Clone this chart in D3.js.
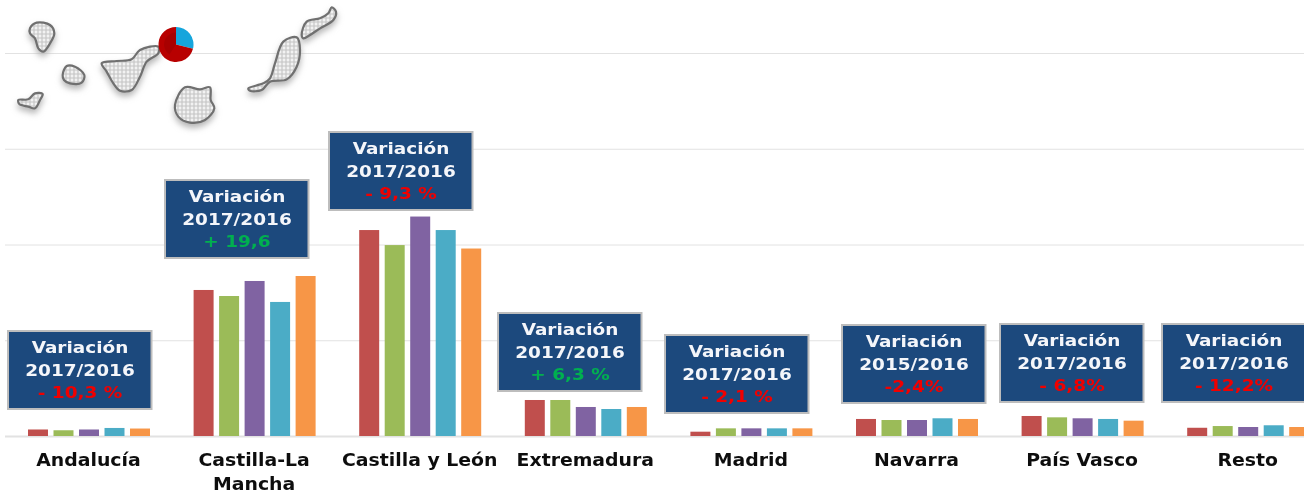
<!DOCTYPE html>
<html><head><meta charset="utf-8">
<script src="https://cdn.jsdelivr.net/npm/d3@7"></script>
<style>html,body{margin:0;padding:0;background:#fff;overflow:hidden}svg{display:block}</style>
</head><body><svg id="c" width="1304" height="493"></svg>
<script>
const categories=["Andalucía","Castilla-La Mancha","Castilla y León","Extremadura","Madrid","Navarra","País Vasco","Resto"];
const seriesNames=["2013","2014","2015","2016","2017"];
const s2013=[6.8,152.5,215.1,37.6,4.5,17.8,20.9,8.6];
const s2014=[6.0,146.2,199.4,37.6,8.0,16.7,19.5,10.4];
const s2015=[6.8,161.9,229.2,30.3,8.0,16.7,18.5,9.4];
const s2016=[8.4,140.0,215.1,28.2,8.0,18.5,17.8,11.2];
const s2017=[7.8,167.1,195.8,30.3,8.0,17.8,16.0,9.4];
const seriesValues=[s2013,s2014,s2015,s2016,s2017];
const colors=["#c0504d","#9bbb59","#8064a2","#4bacc6","#f79646"];
const yTicks=[0,100,200,300,400];
const noteTitle="Variación";
const notePeriods=["2017/2016","2017/2016","2017/2016","2017/2016","2017/2016","2015/2016","2017/2016","2017/2016"];
const noteChanges=["- 10,3 %","+ 19,6","- 9,3 %","+ 6,3 %","- 2,1 %","-2,4%","- 6,8%","- 12,2%"];
const noteColors=["#f00000","#00b050","#f00000","#00b050","#f00000","#f00000","#f00000","#f00000"];
const noteLeft=[8,165,329,498,665,842,1000,1162];
const noteTop=[331,180,132,313,335,325,324,324];
const pieShares=[29,71];

const W=1304,H=493;
const svg=d3.select("#c");
const defs=svg.append("defs");
const soft=defs.append("filter").attr("id","soft");
soft.append("feGaussianBlur").attr("stdDeviation",0.4);
const shade=defs.append("filter").attr("id","shade").attr("x","-40%").attr("y","-40%").attr("width","180%").attr("height","190%");
shade.append("feGaussianBlur").attr("stdDeviation",3);
const pat=defs.append("pattern").attr("id","hatch").attr("width",4).attr("height",4).attr("patternUnits","userSpaceOnUse");
pat.append("rect").attr("width",4).attr("height",4).attr("fill","#f2f2f2");
pat.append("path").attr("d","M0 2H4M2 0V4").attr("stroke","#c4c4c4").attr("stroke-width",1.1);

const x=d3.scaleBand().domain(categories).range([5.7,1330.5]);
const inner=d3.scaleBand().domain(seriesNames).range([22.3,22.3+122]).paddingInner(0.216);
const y=d3.scaleLinear().domain([0,400]).range([436,53]);

const grid=svg.append("g").attr("transform","translate(5,0)")
  .call(d3.axisLeft(y).tickValues(yTicks).tickSize(-W).tickFormat(""));
grid.select(".domain").remove();
grid.selectAll("line").attr("stroke","#e2e2e2").attr("stroke-width",d=>d===0?2:1);

const root=svg.append("g").attr("filter","url(#soft)");
root.selectAll("g.s").data(seriesValues).join("g").attr("class","s")
  .attr("fill",(d,i)=>colors[i])
  .each(function(vals,si){
    d3.select(this).selectAll("rect").data(vals).join("rect")
      .attr("x",(d,i)=>x(categories[i])+inner(seriesNames[si]))
      .attr("y",d=>y(d)).attr("width",inner.bandwidth()).attr("height",d=>y(0)-y(d));
  });

const xAxis=svg.append("g").attr("transform","translate(0,436)").attr("filter","url(#soft)")
  .call(d3.axisBottom(x).tickSize(0).tickFormat(""));
xAxis.select(".domain").remove();
const wrapped={"Castilla-La Mancha":["Castilla-La","Mancha"]};
xAxis.selectAll(".tick").each(function(d){
  const t=d3.select(this).append("text").attr("text-anchor","middle").attr("fill","#111")
    .attr("font-family","'DejaVu Sans'").attr("font-weight","bold").attr("font-size",17)
    .attr("transform","scale(1.11,1)");
  (wrapped[d]||[d]).forEach((line,i)=>t.append("tspan").attr("x",0).attr("y",30+i*24.5).text(line));
});

const notes=root.append("g").selectAll("g").data(categories).join("g")
  .attr("transform",(d,i)=>`translate(${noteLeft[i]},${noteTop[i]})`);
notes.append("rect").attr("width",143.5).attr("height",78).attr("fill","#1f497d").attr("stroke","#bdbdbd").attr("stroke-width",2);
const nt=notes.append("g").attr("text-anchor","middle").attr("font-family","'DejaVu Sans'").attr("font-weight","bold").attr("font-size",16.5)
  .attr("transform","translate(72,0) scale(1.12,1)");
nt.append("text").attr("y",22).attr("fill","#f4f6fa").text(noteTitle);
nt.append("text").attr("y",45).attr("fill","#f4f6fa").text((d,i)=>notePeriods[i]);
nt.append("text").attr("y",67).attr("fill",(d,i)=>noteColors[i]).text((d,i)=>noteChanges[i]);

// islands (map decoration), traced at 3x
const islands=[
 [[90,85],[110,68],[150,75],[163,100],[150,130],[130,155],[115,145],[105,115],[90,100]],
 [[188,225],[200,198],[225,200],[253,225],[245,248],[210,250],[192,240]],
 [[55,300],[85,298],[105,280],[128,282],[120,300],[105,325],[85,320],[58,312]],
 [[305,190],[350,183],[395,178],[420,150],[475,140],[475,160],[440,185],[420,230],[395,270],[360,272],[340,250],[320,215]],
 [[525,315],[555,262],[600,268],[630,262],[632,300],[643,325],[615,360],[570,368],[535,350]],
 [[745,265],[790,250],[810,235],[825,190],[850,125],[890,112],[900,150],[890,200],[860,238],[810,245],[785,270],[750,272]],
 [[905,105],[920,65],[960,55],[985,40],[995,22],[1008,35],[1000,60],[960,85],[930,105],[910,115]]
].map(p=>p.map(([a,b])=>[a/3,b/3]));
const line=d3.line().curve(d3.curveCatmullRomClosed.alpha(0.5));
const map=svg.append("g");
map.selectAll("path.sh").data(islands).join("path").attr("class","sh").attr("d",line)
  .attr("transform","translate(0,4)").attr("fill","#b5b5b5").attr("stroke","#b5b5b5").attr("stroke-width",2).attr("filter","url(#shade)");
map.selectAll("path.is").data(islands).join("path").attr("class","is").attr("d",line)
  .attr("fill","url(#hatch)").attr("stroke","#707070").attr("stroke-width",2.2).attr("filter","url(#soft)");

const pie=d3.pie().sort(null)(pieShares);
const arc=d3.arc().innerRadius(0).outerRadius(17.5);
const pg=svg.append("g").attr("transform","translate(176,44.5)").attr("filter","url(#soft)");
const pieFill=["#12a5dc","#b80000"];
pg.selectAll("path").data(pie).join("path").attr("d",arc).attr("fill",(d,i)=>pieFill[i]);
pg.append("path").attr("d",d3.arc().innerRadius(0).outerRadius(12)({startAngle:pie[1].startAngle+1.9,endAngle:pie[1].endAngle})).attr("fill","#a80000");
</script></body></html>
